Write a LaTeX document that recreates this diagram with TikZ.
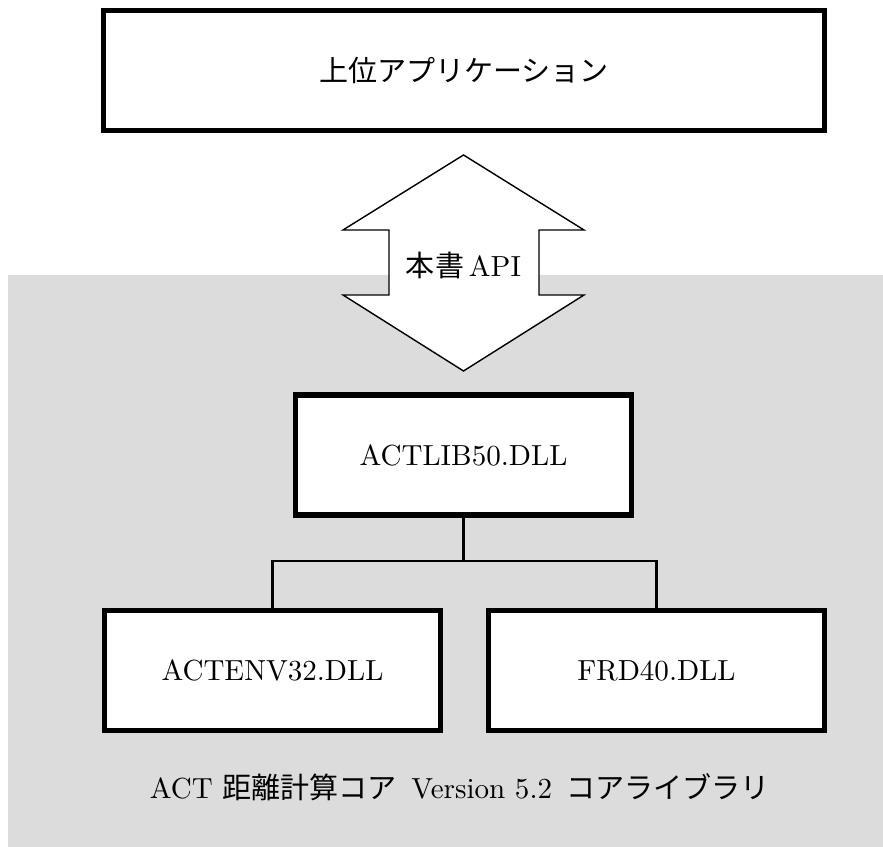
\documentclass[tikz,border=0pt]{standalone}
\usepackage{fontspec}
\setmainfont{lmroman10-regular.otf}
\newfontfamily\jp{Noto Sans CJK JP}
\usetikzlibrary{positioning}
\definecolor{coregray}{RGB}{220,220,220}
\tikzset{
  dllbox/.style={draw, line width=4.3pt, fill=white, minimum width=10.08cm, minimum height=3.6cm, inner sep=0pt},
  link/.style={line width=2pt},
}

\begin{document}
\begin{tikzpicture}[scale=1, font=\fontsize{24.8}{29}\selectfont]
    \useasboundingbox (0,0) rectangle (26.49,25.41);

    % Core library area
    \fill[coregray] (0.24,0) rectangle (26.49,17.16);

    % Application
    \node[dllbox, minimum width=21.63cm] (app) at (13.92,23.295) {{\jp 上位アプリケーション}};

    % API arrow
    \filldraw[fill=white, line width=1.2pt]
        (13.905,20.76) -- (17.52,18.51) -- (16.17,18.51) -- (16.17,16.56)
        -- (17.52,16.56) -- (13.905,14.28) -- (10.29,16.56) -- (11.67,16.56)
        -- (11.67,18.51) -- (10.29,18.51) -- cycle;
    \node (api) at (13.905,17.45) {{\jp 本書}\,API};

    % DLLs
    \node[dllbox] (lib) at (13.905,11.76) {ACTLIB50.DLL};
    \node[dllbox] (env) at (8.175,5.295) {ACTENV32.DLL};
    \node[dllbox] (frd) at (19.695,5.295) {FRD40.DLL};

    % Links
    \coordinate (bus) at (13.905,8.58);
    \draw[link] (lib.south) -- (bus);
    \draw[link] (env.north) -- (env.north |- bus) -- (frd.north |- bus) -- (frd.north);

    % Caption
    \node (core) at (13.8,1.8) {ACT {\jp 距離計算コア}\enspace Version 5.2\enspace{\jp コアライブラリ}};
\end{tikzpicture}
\end{document}
